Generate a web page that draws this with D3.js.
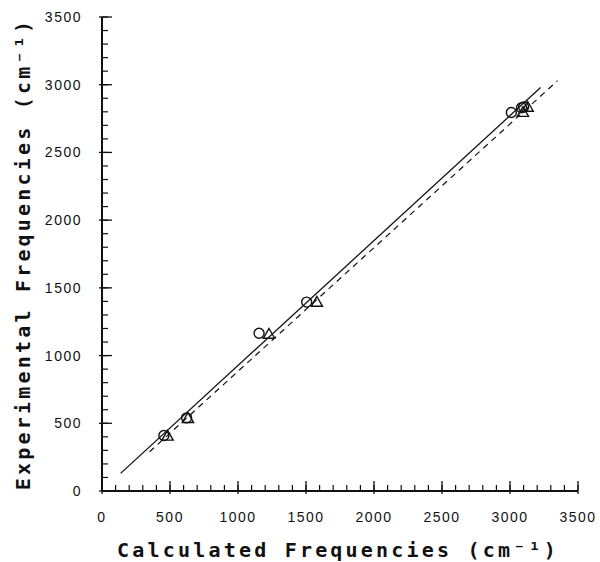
<!DOCTYPE html>
<html><head><meta charset="utf-8">
<script src="https://cdn.jsdelivr.net/npm/d3@7/dist/d3.min.js"></script>
<style>body{margin:0;background:#fff}</style></head>
<body><svg id="c" width="600" height="562"></svg>
<script>
const circles = [[455,410],[622,540],[1155,1165],[1505,1395],[3010,2795],[3085,2830],[3100,2835]];
const triangles = [[482,400],[632,530],[1228,1152],[1580,1388],[3095,2790],[3130,2828]];
const solidLine = [[137,130],[3225,2980]];
const dashedLine = [[350,290],[3350,3030]];
const majorTicks = [0,500,1000,1500,2000,2500,3000,3500];
const minorTicks = d3.range(0,3501,100);
const xTitle = "Calculated Frequencies (cm\u207B\u00B9)";
const yTitle = "Experimental Frequencies (cm\u207B\u00B9)";

const svg = d3.select("#c");
const x = d3.scaleLinear().domain([0,3500]).range([102,578]);
const y = d3.scaleLinear().domain([0,3500]).range([491,17]);
const ink = "#111";

// axes lines
svg.append("line").attr("x1",x(0)).attr("x2",x(3500)).attr("y1",y(0)).attr("y2",y(0)).attr("stroke",ink).attr("stroke-width",2);
svg.append("line").attr("x1",x(0)).attr("x2",x(0)).attr("y1",y(0)).attr("y2",y(3500)).attr("stroke",ink).attr("stroke-width",2);

// minor ticks
svg.selectAll(".mx").data(minorTicks).join("line")
  .attr("x1",d=>x(d)).attr("x2",d=>x(d)).attr("y1",y(0)).attr("y2",y(0)-6)
  .attr("stroke",ink).attr("stroke-width",1.2);
svg.selectAll(".my").data(minorTicks).join("line")
  .attr("y1",d=>y(d)).attr("y2",d=>y(d)).attr("x1",x(0)).attr("x2",x(0)+6)
  .attr("stroke",ink).attr("stroke-width",1.2);
// major ticks
svg.selectAll(".Mx").data(majorTicks).join("line")
  .attr("x1",d=>x(d)).attr("x2",d=>x(d)).attr("y1",y(0)+3).attr("y2",y(0)-10)
  .attr("stroke",ink).attr("stroke-width",1.3);
svg.selectAll(".My").data(majorTicks).join("line")
  .attr("y1",d=>y(d)).attr("y2",d=>y(d)).attr("x1",x(0)-3).attr("x2",x(0)+10)
  .attr("stroke",ink).attr("stroke-width",1.3);

// tick labels
const tf = "'Liberation Sans', Arial, sans-serif";
svg.selectAll(".lx").data(majorTicks).join("text")
  .attr("x",d=>x(d)).attr("y",y(0)+31).attr("text-anchor","middle")
  .attr("font-family",tf).attr("font-size",14).attr("letter-spacing",1.5).attr("fill",ink)
  .text(d=>d);
svg.selectAll(".ly").data(majorTicks).join("text")
  .attr("x",x(0)-20).attr("y",d=>y(d)+5).attr("text-anchor","end")
  .attr("font-family",tf).attr("font-size",14).attr("letter-spacing",1.5).attr("fill",ink)
  .text(d=>d);

// titles
const mf = "'DejaVu Sans Mono', 'Liberation Mono', monospace";
svg.append("text").attr("x",338).attr("y",557).attr("text-anchor","middle")
  .attr("font-family",mf).attr("font-size",20).attr("font-weight","bold").attr("letter-spacing",3.2).attr("fill",ink)
  .text(xTitle);
svg.append("text").attr("transform","translate(30,254) rotate(-90)").attr("text-anchor","middle")
  .attr("font-family",mf).attr("font-size",20).attr("font-weight","bold").attr("letter-spacing",3.2).attr("fill",ink)
  .text(yTitle);

// fit lines
const line = d3.line().x(d=>x(d[0])).y(d=>y(d[1]));
svg.append("path").attr("d",line(solidLine)).attr("fill","none").attr("stroke",ink).attr("stroke-width",1.3);
svg.append("path").attr("d",line(dashedLine)).attr("fill","none").attr("stroke",ink).attr("stroke-width",1.2).attr("stroke-dasharray","6,5");

// markers
svg.selectAll(".ci").data(circles).join("circle")
  .attr("cx",d=>x(d[0])).attr("cy",d=>y(d[1])).attr("r",5)
  .attr("fill","none").attr("stroke",ink).attr("stroke-width",1.4);
const tri = d3.symbol().type(d3.symbolTriangle).size(55);
svg.selectAll(".tr").data(triangles).join("path")
  .attr("d",tri).attr("transform",d=>`translate(${x(d[0])},${y(d[1])})`)
  .attr("fill","none").attr("stroke",ink).attr("stroke-width",1.4);
</script></body></html>
